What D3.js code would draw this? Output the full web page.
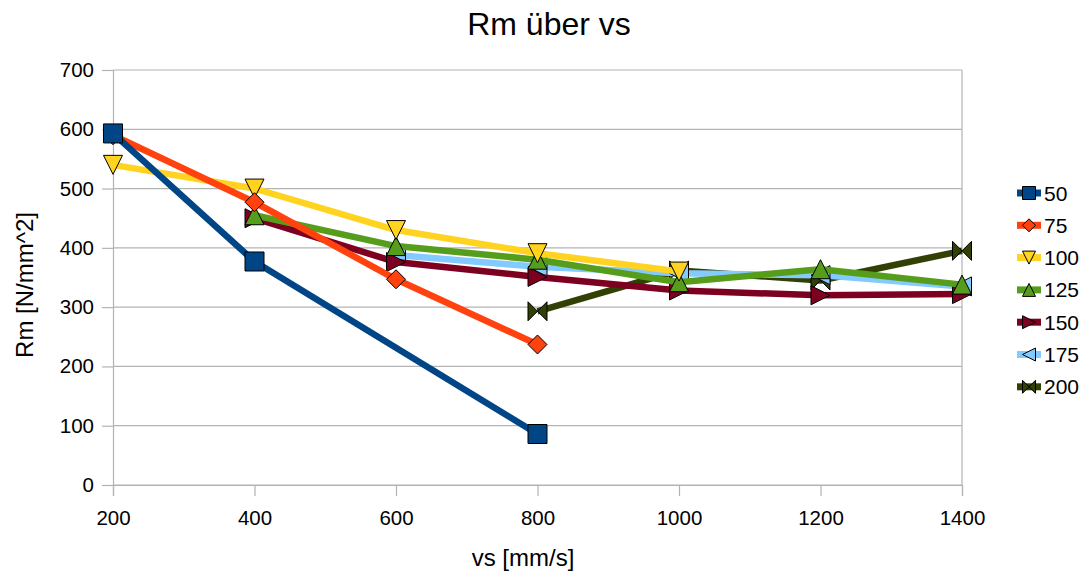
<!DOCTYPE html>
<html>
<head>
<meta charset="utf-8">
<script src="https://cdn.jsdelivr.net/npm/d3@7"></script>
<style>
  html, body { margin: 0; padding: 0; background: #fff; }
  svg { display: block; font-family: "Liberation Sans", Arial, sans-serif; }
</style>
</head>
<body>
<svg id="chart" width="1087" height="573"></svg>
<script>
// Tensile strength Rm against feed speed vs, one line per series
const speeds = [200, 400, 600, 800, 1000, 1200, 1400];
const seriesNames = ["50", "75", "100", "125", "150", "175", "200"];
const s50  = [593, 377, null, 86, null, null, null];
const s75  = [590, 477, 347, 237, null, null, null];
const s100 = [540, 500, 430, 391, 360, null, null];
const s125 = [null, 455, 403, 380, 342, 364, 338];
const s150 = [null, 450, 376, 351, 328, 320, 322];
const s175 = [null, null, 388, 368, 357, 354, 335];
const s200 = [null, null, null, 293, 362, 345, 395];
const yTicks = [0, 100, 200, 300, 400, 500, 600, 700];

const seriesValues = [s50, s75, s100, s125, s150, s175, s200];
const colors = ["#004586", "#ff420e", "#ffd320", "#579d1c", "#7e0021", "#83caff", "#314004"];
const symbols = ["square", "diamond", "triDown", "triUp", "triRight", "triLeft", "bowtie"];

const svg = d3.select("#chart");
const plotL = 113, plotR = 962, plotT = 70, plotB = 485;

const x = d3.scaleLinear().domain([200, 1400]).range([plotL, plotR]);
const y = d3.scaleLinear().domain([0, 700]).range([plotB, plotT]);

// horizontal gridlines
svg.append("g")
  .selectAll("line").data(yTicks).join("line")
  .attr("x1", plotL).attr("x2", plotR)
  .attr("y1", d => y(d)).attr("y2", d => y(d))
  .attr("stroke", "#b3b3b3").attr("stroke-width", 1.2);

// right border of the plot area
svg.append("line")
  .attr("x1", plotR).attr("x2", plotR).attr("y1", plotT).attr("y2", plotB)
  .attr("stroke", "#b3b3b3").attr("stroke-width", 1.2);

// axes
const xAxis = svg.append("g").attr("transform", `translate(0,${plotB})`)
  .call(d3.axisBottom(x).tickValues(speeds).tickSize(11).tickPadding(14).tickFormat(d3.format("d")));
const yAxis = svg.append("g").attr("transform", `translate(${plotL},0)`)
  .call(d3.axisLeft(y).tickValues(yTicks).tickSize(11).tickPadding(8).tickFormat(d3.format("d")));
[xAxis, yAxis].forEach(g => {
  g.select(".domain").attr("stroke", "#b3b3b3").attr("stroke-width", 1.2);
  g.selectAll(".tick line").attr("stroke", "#b3b3b3").attr("stroke-width", 1.2);
  g.selectAll(".tick text").attr("fill", "#000").style("font-size", "20.5px")
    .style("font-family", "'Liberation Sans', Arial, sans-serif");
});

// marker shapes, r is half the symbol box
function symbolPath(kind, r) {
  switch (kind) {
    case "square":   return `M${-r},${-r}H${r}V${r}H${-r}Z`;
    case "diamond":  return `M0,${-r}L${r},0L0,${r}L${-r},0Z`;
    case "triDown":  return `M${-r},${-r}L${r},${-r}L0,${r}Z`;
    case "triUp":    return `M0,${-r}L${r},${r}L${-r},${r}Z`;
    case "triRight": return `M${-r},${-r}L${r},0L${-r},${r}Z`;
    case "triLeft":  return `M${r},${-r}L${-r},0L${r},${r}Z`;
    case "bowtie":   return `M${-r},${-r}L${r},${r}L${r},${-r}L${-r},${r}Z`;
  }
}

// missing values are skipped, the line joins the neighbouring points
const line = d3.line().x(d => x(d.s)).y(d => y(d.v));

// series are painted from last to first so "50" ends on top
const plot = svg.append("g");
for (let i = seriesValues.length - 1; i >= 0; i--) {
  const pts = speeds.map((s, j) => ({ s, v: seriesValues[i][j] })).filter(d => d.v !== null);
  const g = plot.append("g");
  g.append("path").datum(pts)
    .attr("d", line).attr("fill", "none")
    .attr("stroke", colors[i]).attr("stroke-width", 6.5)
    .attr("stroke-linejoin", "round");
  g.selectAll("path.mk").data(pts).join("path")
    .attr("class", "mk")
    .attr("transform", d => `translate(${x(d.s)},${y(d.v)})`)
    .attr("d", symbolPath(symbols[i], 9.5))
    .attr("fill", colors[i]).attr("stroke", "#000").attr("stroke-width", 1);
}

// legend
const legend = svg.append("g");
seriesNames.forEach((name, i) => {
  const cy = 193 + i * 32.3;
  const g = legend.append("g").attr("transform", `translate(1029,${cy})`);
  g.append("rect").attr("x", -12).attr("y", -3.5).attr("width", 24).attr("height", 7).attr("fill", colors[i]);
  g.append("path").attr("d", symbolPath(symbols[i], 6.5))
    .attr("fill", colors[i]).attr("stroke", "#000").attr("stroke-width", 1);
  g.append("text").attr("x", 15).attr("y", 7.5).style("font-size", "21px").text(name);
});

// titles
svg.append("text").attr("x", 549).attr("y", 35).attr("text-anchor", "middle")
  .style("font-size", "32px").text("Rm über vs");
svg.append("text").attr("x", 523).attr("y", 566).attr("text-anchor", "middle")
  .style("font-size", "24px").text("vs [mm/s]");
svg.append("text").attr("transform", "translate(33,285) rotate(-90)").attr("text-anchor", "middle")
  .style("font-size", "24px").text("Rm [N/mm^2]");
</script>
</body>
</html>
